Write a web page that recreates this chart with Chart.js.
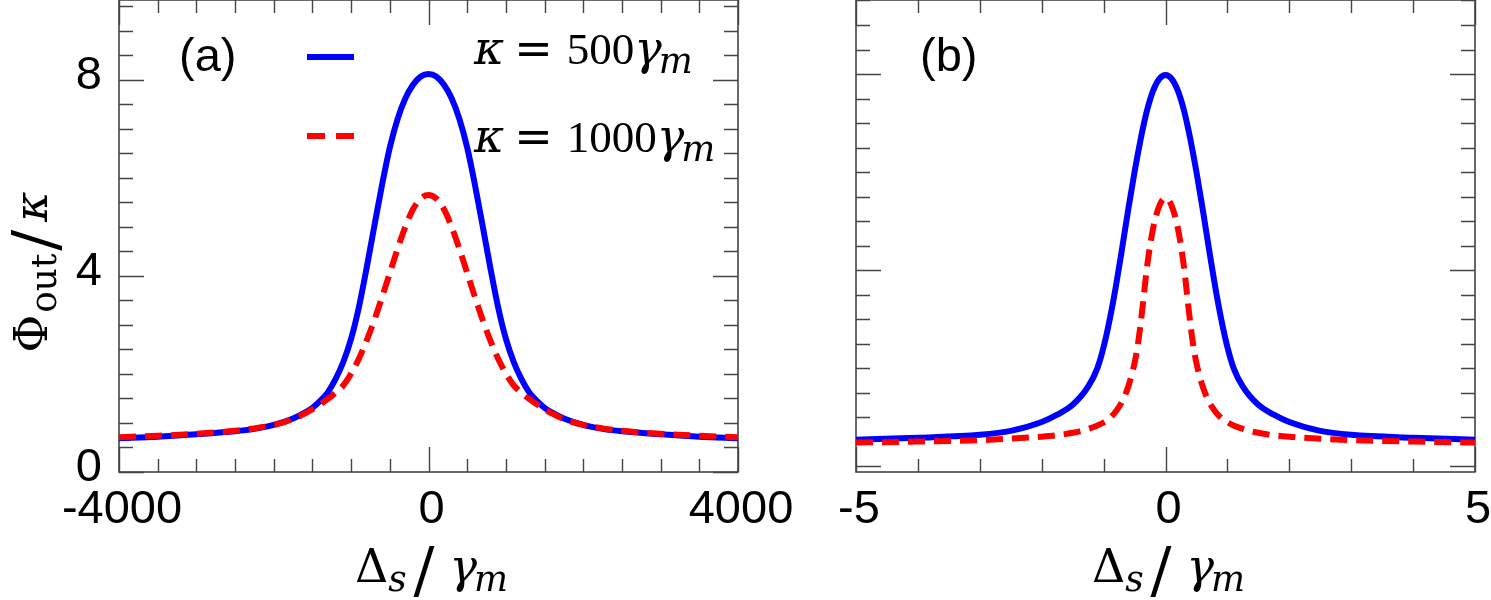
<!DOCTYPE html>
<html>
<head>
<meta charset="utf-8">
<script src="https://cdn.jsdelivr.net/npm/chart.js@4.4.1/dist/chart.umd.min.js"></script>
<style>
  body { margin: 0; background: #fff; }
  #wrap { position: relative; width: 1491px; height: 600px; }
  canvas { position: absolute; top: 0; }
  #panelA { left: 0; }
  #panelB { left: 800px; }
</style>
</head>
<body>
<div id="wrap">
  <canvas id="panelA" width="800" height="600"></canvas>
  <canvas id="panelB" width="691" height="600"></canvas>
</div>
<script>
// (a) detuning in units of gamma_m, output flux / kappa
const detuningA = [-4000, -3500, -3000, -2500, -2250, -2000, -1750, -1600, -1500, -1400, -1300, -1200, -1100, -1000, -900, -800, -700, -600, -500, -400, -300, -200, -100, 0,
                   100, 200, 300, 400, 500, 600, 700, 800, 900, 1000, 1100, 1200, 1300, 1400, 1500, 1600, 1750, 2000, 2250, 2500, 3000, 3500, 4000];
const fluxA500 = [0.69, 0.72, 0.77, 0.83, 0.88, 0.96, 1.09, 1.21, 1.31, 1.45, 1.63, 1.90, 2.25, 2.72, 3.36, 4.16, 5.02, 5.86, 6.62, 7.20, 7.62, 7.90, 8.07, 8.12,
                  8.07, 7.90, 7.62, 7.20, 6.62, 5.86, 5.02, 4.16, 3.36, 2.72, 2.25, 1.90, 1.63, 1.45, 1.31, 1.21, 1.09, 0.96, 0.88, 0.83, 0.77, 0.72, 0.69];
const fluxA1000 = [0.71, 0.74, 0.78, 0.84, 0.89, 0.96, 1.08, 1.19, 1.28, 1.38, 1.49, 1.62, 1.77, 2.01, 2.31, 2.68, 3.10, 3.57, 4.06, 4.55, 5.00, 5.36, 5.58, 5.65,
                   5.58, 5.36, 5.00, 4.55, 4.06, 3.57, 3.10, 2.68, 2.31, 2.01, 1.77, 1.62, 1.49, 1.38, 1.28, 1.19, 1.08, 0.96, 0.89, 0.84, 0.78, 0.74, 0.71];

// (b)
const detuningB = [-5, -4, -3, -2.5, -2, -1.75, -1.5, -1.25, -1.1, -1, -0.9, -0.8, -0.7, -0.6, -0.5, -0.45, -0.4, -0.35, -0.3, -0.2, -0.1, 0,
                   0.1, 0.2, 0.3, 0.35, 0.4, 0.45, 0.5, 0.6, 0.7, 0.8, 0.9, 1, 1.1, 1.25, 1.5, 1.75, 2, 2.5, 3, 4, 5];
const fluxB500 = [0.54, 0.58, 0.64, 0.72, 0.90, 1.05, 1.25, 1.62, 2.00, 2.43, 3.00, 3.68, 4.45, 5.25, 6.00, 6.35, 6.68, 6.98, 7.25, 7.66, 7.90, 7.98,
                  7.90, 7.66, 7.25, 6.98, 6.68, 6.35, 6.00, 5.25, 4.45, 3.68, 3.00, 2.43, 2.00, 1.62, 1.25, 1.05, 0.90, 0.72, 0.64, 0.58, 0.54];
const fluxB1000 = [0.48, 0.50, 0.53, 0.56, 0.60, 0.63, 0.68, 0.76, 0.83, 0.89, 0.98, 1.12, 1.32, 1.63, 2.10, 2.45, 2.92, 3.48, 4.05, 4.85, 5.31, 5.47,
                   5.31, 4.85, 4.05, 3.48, 2.92, 2.45, 2.10, 1.63, 1.32, 1.12, 0.98, 0.89, 0.83, 0.76, 0.68, 0.63, 0.60, 0.56, 0.53, 0.50, 0.48];

// tick labels
const xTicksA = [-4000, 0, 4000];
const xTicksB = [-5, 0, 5];
const yTicksA = [0, 4, 8];
const seriesLabels = ['κ = 500γm', 'κ = 1000γm'];

const BLUE = '#0000ff';
const RED = '#ff0000';
const SANS = '"Liberation Sans", Arial, sans-serif';
const GREEK = '"DejaVu Serif", serif';
const NUM = '"Liberation Serif", "Times New Roman", serif';
const MATH = 46;

function mathFont(p) {
    const s = MATH * (p.sub ? 0.78 : 1) * (p.scale || 1) * (p.num ? 0.98 : 1);
    return (p.it ? 'italic ' : '') + s + 'px ' + (p.num ? NUM : GREEK);
}

function mathWidth(ctx, parts) {
    let w = 0;
    parts.forEach(p => {
        ctx.font = mathFont(p);
        w += (p.gap || 0) + ctx.measureText(p.t).width;
    });
    return w;
}

function drawMath(ctx, parts, x, y) {
    ctx.fillStyle = '#000';
    ctx.textAlign = 'left';
    ctx.textBaseline = 'alphabetic';
    parts.forEach(p => {
        ctx.font = mathFont(p);
        x += p.gap || 0;
        const dy = (p.sub ? 0.2 : 0) + (p.dy || 0);
        ctx.fillText(p.t, x, y + dy * MATH);
        x += ctx.measureText(p.t).width;
    });
}

const xTitle = [
    { t: 'Δ' },
    { t: 's', it: 1, sub: 1, gap: 0 },
    { t: '/', scale: 1.35, dy: 0.2, gap: 7 },
    { t: 'γ', it: 1, gap: 15 },
    { t: 'm', it: 1, sub: 1, gap: -3 }
];
const yTitle = [
    { t: 'Φ' },
    { t: 'out', sub: 1, gap: 2 },
    { t: '/', scale: 1.35, dy: 0.2, gap: 3 },
    { t: 'κ', it: 1, gap: 8 }
];
const legendRows = [
    [{ t: 'κ', it: 1 }, { t: '=', gap: 10 }, { t: '500', num: 1, gap: 14 }, { t: 'γ', it: 1, gap: 0 }, { t: 'm', it: 1, sub: 1, gap: -3 }],
    [{ t: 'κ', it: 1 }, { t: '=', gap: 10 }, { t: '1000', num: 1, gap: 14 }, { t: 'γ', it: 1, gap: 0 }, { t: 'm', it: 1, sub: 1, gap: -3 }]
];

function isMajor(v, step) {
    const r = v / step;
    return Math.abs(r - Math.round(r)) < 1e-6;
}

// gnuplot-like frame with inward ticks on all four sides
const framePlugin = {
    id: 'frame',
    beforeDatasetsDraw(chart, args, o) {
        const { ctx, chartArea: a, scales: { x, y } } = chart;
        ctx.save();
        ctx.strokeStyle = '#444';
        ctx.lineWidth = 1.4;
        ctx.beginPath();
        for (let v = x.min; v <= x.max + 1e-9; v += o.xStep) {
            const px = Math.round(x.getPixelForValue(v)) + 0.5;
            const len = isMajor(v, o.xMajor) ? 25 : 13;
            ctx.moveTo(px, a.bottom); ctx.lineTo(px, a.bottom - len);
            ctx.moveTo(px, a.top); ctx.lineTo(px, a.top + len);
        }
        for (let v = Math.ceil(y.min / o.yStep - 1e-9) * o.yStep; v <= y.max + 1e-9; v += o.yStep) {
            const py = Math.round(y.getPixelForValue(v)) + 0.5;
            const len = isMajor(v, o.yMajor) ? 25 : 14;
            ctx.moveTo(a.left, py); ctx.lineTo(a.left + len, py);
            ctx.moveTo(a.right, py); ctx.lineTo(a.right - len, py);
        }
        ctx.stroke();
        ctx.lineWidth = 1.6;
        ctx.strokeRect(a.left, a.top, a.right - a.left, a.bottom - a.top);
        ctx.restore();
    },
    afterDraw(chart, args, o) {
        const { ctx, chartArea: a } = chart;
        ctx.save();
        // panel tag
        ctx.fillStyle = '#000';
        ctx.font = '47px ' + SANS;
        ctx.textAlign = 'left';
        ctx.textBaseline = 'alphabetic';
        ctx.fillText(o.tag, a.left + o.tagX, 71);
        // x title
        const cx = (a.left + a.right) / 2 + 3;
        drawMath(ctx, xTitle, cx - mathWidth(ctx, xTitle) / 2, 582);
        if (o.yTitle) {
            ctx.save();
            ctx.translate(47, 272 + mathWidth(ctx, yTitle) / 2);
            ctx.rotate(-Math.PI / 2);
            drawMath(ctx, yTitle, 0, 0);
            ctx.restore();
        }
        if (o.legend) {
            const sx = a.left + 188, ex = a.left + 235;
            ctx.lineWidth = 6;
            ctx.strokeStyle = BLUE;
            ctx.beginPath(); ctx.moveTo(sx, 57); ctx.lineTo(ex, 57); ctx.stroke();
            ctx.strokeStyle = RED;
            ctx.setLineDash([18, 11]);
            ctx.beginPath(); ctx.moveTo(sx, 136); ctx.lineTo(ex, 136); ctx.stroke();
            ctx.setLineDash([]);
            drawMath(ctx, legendRows[0], a.left + 355, 64);
            drawMath(ctx, legendRows[1], a.left + 355, 152);
        }
        ctx.restore();
    }
};

function points(xs, ys) {
    return xs.map((x, i) => ({ x: x, y: ys[i] }));
}

function lineSet(label, xs, ys, color, dash, order) {
    return {
        label: label,
        data: points(xs, ys),
        borderColor: color,
        borderWidth: 6,
        borderDash: dash,
        borderCapStyle: 'butt',
        pointRadius: 0,
        cubicInterpolationMode: 'monotone',
        fill: false,
        order: order
    };
}

const tickFont = { family: SANS, size: 47 };

new Chart(document.getElementById('panelA'), {
    type: 'line',
    data: {
        datasets: [
            lineSet(seriesLabels[0], detuningA, fluxA500, BLUE, [], 1),
            lineSet(seriesLabels[1], detuningA, fluxA1000, RED, [17, 9], 0)
        ]
    },
    options: {
        responsive: false,
        animation: false,
        events: [],
        layout: { padding: { top: 0, right: 62 } },
        plugins: {
            legend: { display: false },
            tooltip: { enabled: false },
            frame: { xStep: 500, xMajor: 4000, yStep: 0.5, yMajor: 4, tag: '(a)', tagX: 60, yTitle: true, legend: true }
        },
        scales: {
            x: {
                type: 'linear', min: -4000, max: 4000,
                afterBuildTicks: s => { s.ticks = xTicksA.map(v => ({ value: v })); },
                afterFit: s => { s.height = 128; s.paddingLeft = 0; s.paddingRight = 0; },
                ticks: { font: tickFont, color: '#000', padding: 10, labelOffset: 3, maxRotation: 0, autoSkip: false, callback: v => String(v) },
                grid: { display: false, drawTicks: false },
                border: { display: false }
            },
            y: {
                type: 'linear', min: 0, max: 9.63,
                afterBuildTicks: s => { s.ticks = yTicksA.map(v => ({ value: v })); },
                afterFit: s => { s.width = 119; s.paddingTop = 0; s.paddingBottom = 0; },
                ticks: { font: tickFont, color: '#000', padding: 17, labelOffset: -4, callback: v => String(v) },
                grid: { display: false, drawTicks: false },
                border: { display: false }
            }
        }
    },
    plugins: [framePlugin]
});

new Chart(document.getElementById('panelB'), {
    type: 'line',
    data: {
        datasets: [
            lineSet(seriesLabels[0], detuningB, fluxB500, BLUE, [], 1),
            lineSet(seriesLabels[1], detuningB, fluxB1000, RED, [17, 9], 0)
        ]
    },
    options: {
        responsive: false,
        animation: false,
        events: [],
        layout: { padding: { top: 0, left: 56, right: 16 } },
        plugins: {
            legend: { display: false },
            tooltip: { enabled: false },
            frame: { xStep: 1, xMajor: 5, yStep: 0.5, yMajor: 4, tag: '(b)', tagX: 64, yTitle: false, legend: false }
        },
        scales: {
            x: {
                type: 'linear', min: -5, max: 5,
                afterBuildTicks: s => { s.ticks = xTicksB.map(v => ({ value: v })); },
                afterFit: s => { s.height = 128; s.paddingLeft = 0; s.paddingRight = 0; },
                ticks: { font: tickFont, color: '#000', padding: 10, labelOffset: 3, maxRotation: 0, autoSkip: false, callback: v => String(v) },
                grid: { display: false, drawTicks: false },
                border: { display: false }
            },
            y: {
                type: 'linear', min: -0.12, max: 9.51, display: false
            }
        }
    },
    plugins: [framePlugin]
});
</script>
</body>
</html>
